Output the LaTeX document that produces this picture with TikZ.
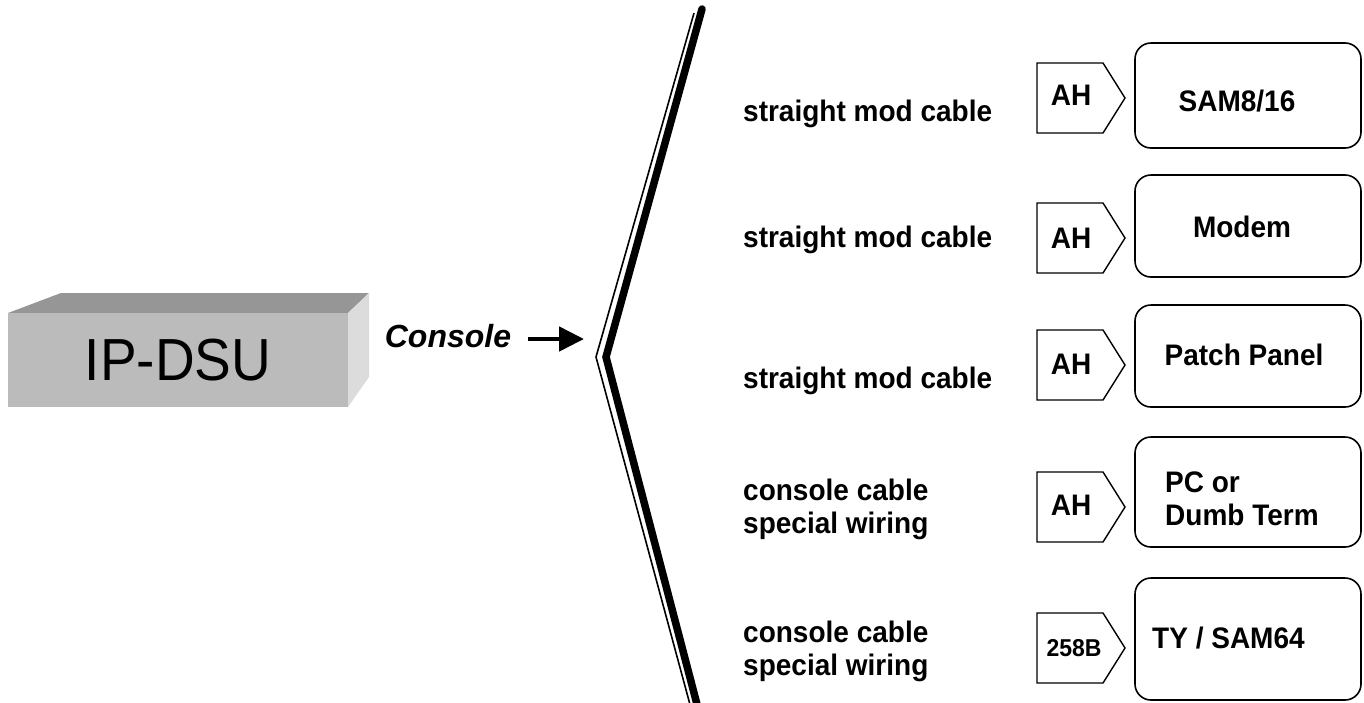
\documentclass[tikz,border=0pt]{standalone}
\usepackage{fontspec}
\setmainfont{Liberation Sans}
\usetikzlibrary{arrows.meta}
\definecolor{frontgray}{HTML}{BBBBBB}
\definecolor{topgray}{HTML}{969696}
\definecolor{sidegray}{HTML}{DCDCDC}
\begin{document}
\begin{tikzpicture}[x=1pt,y=-1pt,
  lbl/.style={font=\fontsize{28}{33}\selectfont\bfseries, inner sep=0pt, anchor=base west, yscale=1.06},
  boxtxt/.style={font=\fontsize{28}{33}\selectfont\bfseries, inner sep=0pt, yscale=1.06},
  tagline/.style={draw, line width=1.4pt, line join=miter},
  devbox/.style={draw, line width=1.6pt, rounded corners=16pt, minimum width=226pt, inner sep=0pt}]
\useasboundingbox (0,0) rectangle (1364,702);
\fill[white] (0,0) rectangle (1364,702);

% IP-DSU block
\fill[topgray] (8,313) -- (61,293) -- (369,293) -- (348,313) -- cycle;
\fill[sidegray] (348,313) -- (369,293) -- (369,377) -- (348,407) -- cycle;
\node[fill=frontgray, minimum width=340pt, minimum height=94pt, inner sep=0pt] (dsu) at (178,360) {};
\node[anchor=base, inner sep=0pt, font=\fontsize{55}{60}\selectfont, yscale=1.08] (dsutxt) at (178,380) {IP-DSU};

% Console + arrow
\node[anchor=base, inner sep=0pt, font=\fontsize{32}{36}\selectfont\bfseries\itshape] (con) at (448,347) {Console};
\coordinate (arrS) at (528,339);
\coordinate (arrE) at (584,339);
\draw[line width=4.8pt, -{Triangle[length=25pt,width=24pt]}] (arrS) -- (arrE);

% chevron (double line)
\coordinate (tkTop) at (702,9);
\coordinate (tkV) at (606,357);
\coordinate (tkBot) at (699,712);
\coordinate (tnTop) at (694,13);
\coordinate (tnV) at (596,357);
\coordinate (tnBot) at (692,712);
\draw[line width=7.5pt, line cap=round, line join=miter] (tkTop) -- (tkV) -- (tkBot);
\draw[line width=1.6pt, line join=miter] (tnTop) -- (tnV) -- (tnBot);

% cable labels
\node[lbl] (l1) at (743,121) {straight mod cable};
\node[lbl] (l2) at (743,247) {straight mod cable};
\node[lbl] (l3) at (743,388) {straight mod cable};
\node[lbl] (l4a) at (743,500) {console cable};
\node[lbl] (l4b) at (743,533) {special wiring};
\node[lbl] (l5a) at (743,642) {console cable};
\node[lbl] (l5b) at (743,675) {special wiring};

% connector tags
\foreach \c in {98,238,365,507,648}
  \draw[tagline] (1037,{\c-35}) -- (1103,{\c-35}) -- (1125,\c) -- (1103,{\c+35}) -- (1037,{\c+35}) -- cycle;
\node[boxtxt, anchor=base] (t1) at (1071,105) {AH};
\node[boxtxt, anchor=base] (t2) at (1071,248) {AH};
\node[boxtxt, anchor=base] (t3) at (1071,374) {AH};
\node[boxtxt, anchor=base] (t4) at (1071,515) {AH};
\node[boxtxt, anchor=base, font=\fontsize{23}{27}\selectfont\bfseries] (t5) at (1074,656) {258B};

% device boxes
\node[devbox, minimum height=105pt] (b1) at (1248,95.5) {};
\node[devbox, minimum height=102pt] (b2) at (1248,226) {};
\node[devbox, minimum height=102pt] (b3) at (1248,356) {};
\node[devbox, minimum height=110pt] (b4) at (1248,492) {};
\node[devbox, minimum height=122pt] (b5) at (1248,639) {};

\node[boxtxt, anchor=base] (d1) at (1237,111) {SAM8/16};
\node[boxtxt, anchor=base] (d2) at (1242,237) {Modem};
\node[boxtxt, anchor=base] (d3) at (1244,365) {Patch Panel};
\node[boxtxt, anchor=base west] (d4a) at (1165,492) {PC or};
\node[boxtxt, anchor=base west] (d4b) at (1165,525) {Dumb Term};
\node[boxtxt, anchor=base west] (d5) at (1152,648) {TY / SAM64};
\end{tikzpicture}
\end{document}
